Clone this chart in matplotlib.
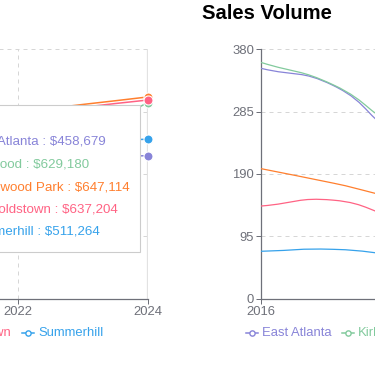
import matplotlib
matplotlib.use('Agg')
import matplotlib.pyplot as plt
from matplotlib.path import Path
from matplotlib.patches import PathPatch, Rectangle
from matplotlib.lines import Line2D

plt.rcParams['font.family'] = ['Liberation Sans', 'DejaVu Sans']

W, H = 375, 366

years = [2016, 2017, 2018, 2019, 2020, 2021, 2022, 2023, 2024]
names = ['East Atlanta', 'Kirkwood', 'Ormewood Park', 'Reynoldstown', 'Summerhill']
colors = ['#8884d8', '#82ca9d', '#ff7f2e', '#ff6384', '#36a2eb']

# median sale price (left chart, mostly hidden under the tooltip)
east_atlanta_price = [318000, 335000, 352000, 371000, 392000, 428000, 445000, 452000, 458679]
kirkwood_price = [455000, 470000, 488000, 498000, 510000, 532000, 515000, 525000, 629180]
ormewood_price = [470000, 488000, 505000, 520000, 548000, 590000, 600000, 623000, 647114]
reynoldstown_price = [430000, 452000, 470000, 488000, 515000, 560000, 588000, 614000, 637204]
summerhill_price = [360000, 378000, 395000, 410000, 430000, 470000, 492000, 505000, 511264]

# sales volume (right chart)
east_atlanta_vol = [351, 325, 245, 230, 221, 240, 200, 185, 190]
kirkwood_vol = [360, 326, 258, 240, 228, 250, 210, 196, 200]
ormewood_vol = [198, 176, 153, 150, 142, 160, 130, 120, 125]
reynoldstown_vol = [141, 150, 122, 118, 110, 128, 104, 98, 101]
summerhill_vol = [72, 75, 66, 64, 60, 70, 58, 55, 57]

price_ticks = [0, 200000, 400000, 600000, 800000]
vol_ticks = [0, 95, 190, 285, 380]

GRID = '#d6d6d6'
AXIS = '#6e7079'
LABEL_PT = 13 * 0.72
TIP_PT = 13.4 * 0.72


def fx(px):
    return px / W


def fy(py):
    return 1 - py / H


def smooth_line(ax, xs, ys, color, sx, sy, lw=0.9, smooth=0.5):
    # bezier curve through the points, control points like echarts smooth lines
    n = len(xs)
    cin, cout = [], []
    for i in range(n):
        px, py = xs[max(i - 1, 0)], ys[max(i - 1, 0)]
        nx, ny = xs[min(i + 1, n - 1)], ys[min(i + 1, n - 1)]
        x, y = xs[i], ys[i]
        vx, vy = nx - px, ny - py
        lp = (((x - px) * sx) ** 2 + ((y - py) * sy) ** 2) ** 0.5
        ln = (((nx - x) * sx) ** 2 + ((ny - y) * sy) ** 2) ** 0.5
        r = ln / (ln + lp) if ln + lp > 0 else 0.5
        cin.append((x - vx * smooth * (1 - r), y - vy * smooth * (1 - r)))
        cout.append((x + vx * smooth * r, y + vy * smooth * r))
    verts = [(xs[0], ys[0])]
    codes = [Path.MOVETO]
    for i in range(n - 1):
        verts += [cout[i], cin[i + 1], (xs[i + 1], ys[i + 1])]
        codes += [Path.CURVE4] * 3
    ax.add_patch(PathPatch(Path(verts, codes), fill=False, edgecolor=color, lw=lw, zorder=3))


def style_axis(ax, yticks, ylabels):
    ax.set_xlim(years[0], years[-1])
    ax.set_ylim(yticks[0], yticks[-1])
    ax.set_facecolor('none')
    for s in ['top', 'right']:
        ax.spines[s].set_visible(False)
    for s in ['left', 'bottom']:
        ax.spines[s].set_color(AXIS)
        ax.spines[s].set_linewidth(0.9)
    ax.set_xticks(years[::2])
    ax.set_xticklabels([str(y) for y in years[::2]])
    ax.set_yticks(yticks)
    ax.set_yticklabels(ylabels)
    ax.tick_params(colors=AXIS, labelcolor=AXIS, labelsize=LABEL_PT, length=3.6, width=0.72)
    ax.tick_params(axis='x', pad=1.5)
    ax.tick_params(axis='y', pad=1.5)
    for t in yticks[1:]:
        ax.axhline(t, color=GRID, lw=0.72, dashes=(4, 4), zorder=1)


def legend_icon(fig, x, y, color):
    fig.add_artist(Line2D([fx(x), fx(x + 12)], [fy(y), fy(y)], color=color, lw=1.1,
                          transform=fig.transFigure))
    fig.add_artist(Line2D([fx(x + 6)], [fy(y)], marker='o', ms=3.8, mfc='white', mec=color,
                          mew=1.0, transform=fig.transFigure))


def main():
    fig = plt.figure(figsize=(W / 100, H / 100), dpi=100)
    renderer = fig.canvas.get_renderer()
    y0 = 298.5
    y1 = 49.3
    bottom = fy(y0)
    height = (y0 - y1) / H

    # left chart: prices, 2024 sits at x=148
    ax1 = fig.add_axes([fx(148 - 8 * 65), bottom, 8 * 65 / W, height])
    style_axis(ax1, price_ticks, ['${:,}'.format(t) for t in price_ticks])
    for yr in years[::2][:-1]:
        ax1.axvline(yr, color=GRID, lw=0.72, dashes=(4, 4), zorder=1)
    ax1.axvline(years[-1], color='#e2e2e2', lw=1.6, zorder=2)
    prices = [east_atlanta_price, kirkwood_price, ormewood_price, reynoldstown_price, summerhill_price]
    for vals, c in zip(prices, colors):
        smooth_line(ax1, years, vals, c, 65, (y0 - y1) / 800000, lw=1.1)
    for vals, c in zip(prices, colors):
        ax1.plot([years[-1]], [vals[-1]], 'o', ms=6.5, mfc=c, mec='white', mew=0.8,
                 clip_on=False, zorder=5)

    # right chart: sales volume
    ax2 = fig.add_axes([fx(261), bottom, 8 * 72 / W, height])
    style_axis(ax2, vol_ticks, [str(t) for t in vol_ticks])
    vols = [east_atlanta_vol, kirkwood_vol, ormewood_vol, reynoldstown_vol, summerhill_vol]
    for vals, c in zip(vols, colors):
        smooth_line(ax2, years, vals, c, 72, (y0 - y1) / 380, lw=0.9)

    fig.text(fx(202), fy(19.3), 'Sales Volume', fontsize=14.6, fontweight='bold',
             va='baseline', ha='left', color='black')

    # tooltip over the left chart, rows left aligned so East Atlanta ends at x=106
    box = Rectangle((fx(-60), fy(251.7)), (139.5 + 60) / W, (251.7 - 105) / H,
                    transform=fig.transFigure, facecolor='white', edgecolor='#cccccc',
                    lw=0.8, zorder=10)
    fig.add_artist(box)
    rows = ['{} : ${:,}'.format(n, vals[-1]) for n, vals in zip(names, prices)]
    probe = fig.text(0, 0, rows[0], fontsize=TIP_PT)
    tip_x = 106 - probe.get_window_extent(renderer).width
    probe.remove()
    fig.text(fx(tip_x), fy(120), '2024', color='#666666', fontsize=TIP_PT,
             va='center', ha='left', zorder=11)
    for i, (row, c) in enumerate(zip(rows, colors)):
        fig.text(fx(tip_x), fy(142 + i * 22.5), row, color=c,
                 fontsize=TIP_PT, va='center', ha='left', zorder=11)

    ly = 333

    # left legend, laid out right to left from Summerhill
    x = 22
    for k in range(len(names) - 1, -1, -1):
        legend_icon(fig, x, ly, colors[k])
        fig.text(fx(x + 16), fy(ly), names[k], color=colors[k], fontsize=LABEL_PT,
                 va='center', ha='left')
        if k == 0:
            break
        t = fig.text(0, 0, names[k - 1], fontsize=LABEL_PT)
        w = t.get_window_extent(renderer).width
        t.remove()
        x = x - 10 - w - 16

    # right legend, left to right
    x = 246
    for n, c in zip(names, colors):
        legend_icon(fig, x, ly, c)
        t = fig.text(fx(x + 16), fy(ly), n, color=c, fontsize=LABEL_PT, va='center', ha='left')
        w = t.get_window_extent(renderer).width
        x = x + 16 + w + 10

    fig.savefig('out.png', dpi=100)


if __name__ == '__main__':
    main()
